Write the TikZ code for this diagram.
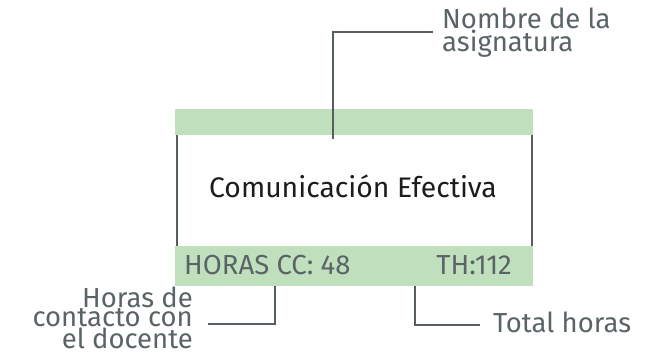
\documentclass[tikz,border=0pt]{standalone}
\usepackage{fontspec}
\setmainfont{Fira Sans}
\definecolor{bandgreen}{HTML}{BFDFBD}
\definecolor{linegray}{HTML}{555F62}
\definecolor{textgray}{HTML}{5A6467}
\definecolor{maintext}{HTML}{1C1C1C}
\tikzset{
  band/.style={fill=bandgreen, draw=none, inner sep=0pt, anchor=north west},
  conn/.style={draw=linegray, line width=2pt},
  side/.style={draw=linegray, line width=1.8pt},
  lbl/.style={text=textgray, inner sep=0pt, font=\fontsize{27.5}{18.5}\selectfont},
  maint/.style={text=maintext, inner sep=0pt, font=\fontsize{28.3}{20}\selectfont}
}
\begin{document}
\begin{tikzpicture}[x=1pt,y=-1pt]
\useasboundingbox (0,0) rectangle (656,357);
% bands
\node[band, minimum width=358pt, minimum height=26pt] (topband) at (175,109) {};
\node[band, minimum width=358pt, minimum height=40pt] (botband) at (175,246) {};
% side lines
\coordinate (sl1) at (177,135);
\coordinate (sl2) at (177,246);
\coordinate (sr1) at (532,135);
\coordinate (sr2) at (532,246);
\draw[side] (sl1) -- (sl2);
\draw[side] (sr1) -- (sr2);
% main text
\node[maint, anchor=base] (title) at (353,197) {Comunicación Efectiva};
% band texts
\node[lbl, anchor=base west] (hcc) at (184,274) {HORAS CC: 48};
\node[lbl, anchor=base east] (th) at (512,274) {TH:112};
% labels
\node[lbl, anchor=base west, align=left] (nombre) at (442,51) {Nombre de la\\asignatura};
\node[lbl, anchor=base east, align=right] (horas) at (193,348) {Horas de\\contacto con\\el docente};
\node[lbl, anchor=base west] (total) at (493,332) {Total horas};
% connectors
\coordinate (c1) at (333,139);
\coordinate (c1e) at (433,32);
\draw[conn] (c1) |- (c1e);
\coordinate (c2) at (275,286);
\coordinate (c2e) at (208,324);
\draw[conn] (c2) |- (c2e);
\coordinate (c3) at (415,286);
\coordinate (c3e) at (480,325);
\draw[conn] (c3) |- (c3e);
\end{tikzpicture}
\end{document}
